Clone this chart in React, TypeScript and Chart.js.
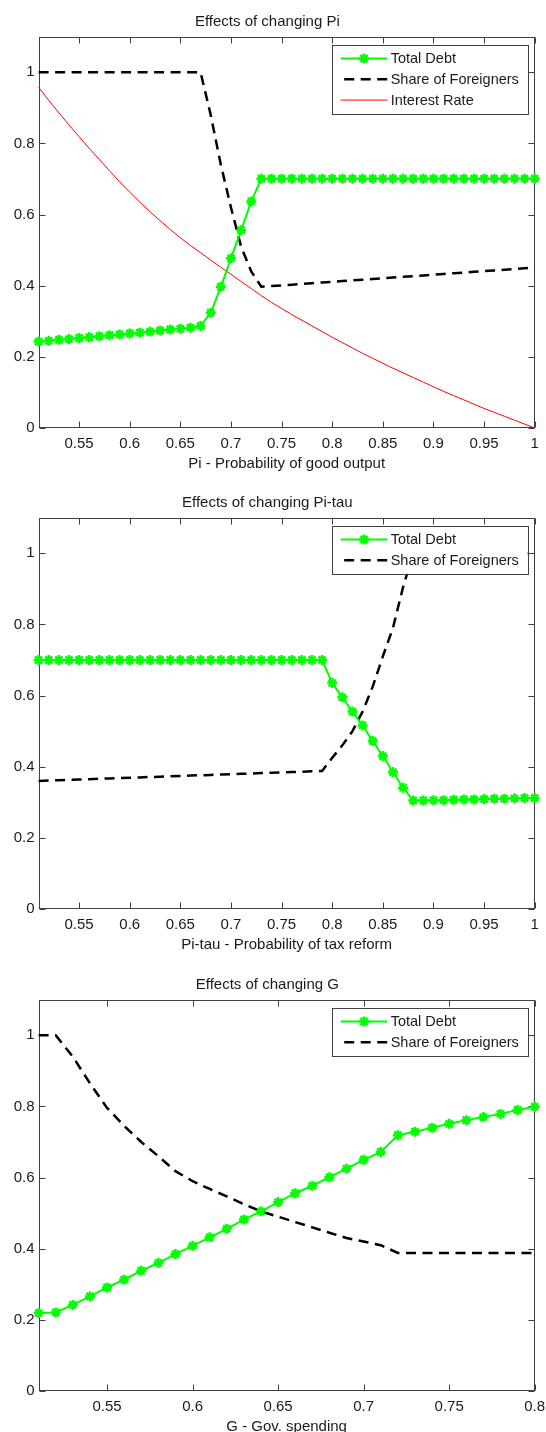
import React, { useEffect, useRef } from "react";
import { Chart, registerables } from "chart.js";

Chart.register(...registerables);

const FONT = "'Liberation Sans', Arial, Helvetica, sans-serif";
const TEXT_COLOR = "#1a1a1a";
const AXIS_COLOR = "#404040";

// ---------- Panel 1: Effects of changing Pi ----------
const piX = [
  0.51, 0.52, 0.53, 0.54, 0.55, 0.56, 0.57, 0.58, 0.59, 0.6,
  0.61, 0.62, 0.63, 0.64, 0.65, 0.66, 0.67, 0.68, 0.69, 0.7,
  0.71, 0.72, 0.73, 0.74, 0.75, 0.76, 0.77, 0.78, 0.79, 0.8,
  0.81, 0.82, 0.83, 0.84, 0.85, 0.86, 0.87, 0.88, 0.89, 0.9,
  0.91, 0.92, 0.93, 0.94, 0.95, 0.96, 0.97, 0.98, 0.99, 1.0,
];
const piTotalDebt = [
  0.243, 0.245, 0.248, 0.25, 0.253, 0.255, 0.258, 0.261, 0.263, 0.266,
  0.268, 0.271, 0.274, 0.277, 0.279, 0.282, 0.287, 0.324, 0.397, 0.477,
  0.556, 0.637, 0.701, 0.701, 0.701, 0.701, 0.701, 0.701, 0.701, 0.701,
  0.701, 0.701, 0.701, 0.701, 0.701, 0.701, 0.701, 0.701, 0.701, 0.701,
  0.701, 0.701, 0.701, 0.701, 0.701, 0.701, 0.701, 0.701, 0.701, 0.701,
];
const piShareForeigners = [
  1.0, 1.0, 1.0, 1.0, 1.0, 1.0, 1.0, 1.0, 1.0, 1.0,
  1.0, 1.0, 1.0, 1.0, 1.0, 1.0, 1.0, 0.88, 0.74, 0.62,
  0.51, 0.44, 0.397, 0.399, 0.401, 0.403, 0.405, 0.407, 0.409, 0.411,
  0.413, 0.415, 0.417, 0.419, 0.421, 0.423, 0.425, 0.427, 0.429, 0.431,
  0.433, 0.435, 0.437, 0.439, 0.441, 0.443, 0.445, 0.447, 0.449, 0.451,
];
const piInterestRate = [
  0.958, 0.921, 0.886, 0.852, 0.819, 0.786, 0.755, 0.723, 0.692, 0.663,
  0.635, 0.608, 0.583, 0.558, 0.535, 0.513, 0.493, 0.472, 0.452, 0.432,
  0.412, 0.392, 0.372, 0.353, 0.336, 0.319, 0.303, 0.287, 0.271, 0.255,
  0.24, 0.225, 0.21, 0.196, 0.182, 0.168, 0.155, 0.142, 0.129, 0.116,
  0.103, 0.091, 0.079, 0.067, 0.055, 0.044, 0.033, 0.022, 0.011, 0.0,
];

// ---------- Panel 2: Effects of changing Pi-tau ----------
const piTauX = piX;
const piTauTotalDebt = [
  0.7, 0.7, 0.7, 0.7, 0.7, 0.7, 0.7, 0.7, 0.7, 0.7,
  0.7, 0.7, 0.7, 0.7, 0.7, 0.7, 0.7, 0.7, 0.7, 0.7,
  0.7, 0.7, 0.7, 0.7, 0.7, 0.7, 0.7, 0.7, 0.7, 0.635,
  0.595, 0.555, 0.516, 0.472, 0.43, 0.385, 0.341, 0.305, 0.305, 0.306,
  0.306, 0.307, 0.308, 0.308, 0.309, 0.31, 0.31, 0.311, 0.312, 0.312,
];
const piTauShareForeigners = [
  0.36, 0.361, 0.362, 0.363, 0.364, 0.365, 0.366, 0.367, 0.368, 0.369,
  0.37, 0.371, 0.372, 0.373, 0.374, 0.375, 0.376, 0.377, 0.378, 0.379,
  0.38, 0.381, 0.382, 0.383, 0.384, 0.385, 0.386, 0.387, 0.388, 0.425,
  0.46, 0.5, 0.555, 0.625, 0.71, 0.79, 0.905, 1.0, 1.0, 1.0,
  1.0, 1.0, 1.0, 1.0, 1.0, 1.0, 1.0, 1.0, 1.0, 1.0,
];

// ---------- Panel 3: Effects of changing G ----------
const gX = [
  0.51, 0.52, 0.53, 0.54, 0.55, 0.56, 0.57, 0.58, 0.59, 0.6,
  0.61, 0.62, 0.63, 0.64, 0.65, 0.66, 0.67, 0.68, 0.69, 0.7,
  0.71, 0.72, 0.73, 0.74, 0.75, 0.76, 0.77, 0.78, 0.79, 0.8,
];
const gTotalDebt = [
  0.219, 0.221, 0.242, 0.266, 0.291, 0.313, 0.338, 0.36, 0.385, 0.408,
  0.432, 0.456, 0.482, 0.505, 0.531, 0.556, 0.577, 0.601, 0.625, 0.65,
  0.672, 0.719, 0.729, 0.74, 0.751, 0.761, 0.77, 0.779, 0.79, 0.799,
];
const gShareForeigners = [
  1.0, 1.0, 0.94, 0.865, 0.796, 0.745, 0.7, 0.66, 0.618, 0.59,
  0.568, 0.547, 0.525, 0.505, 0.49, 0.475, 0.46, 0.445, 0.43, 0.42,
  0.41, 0.388, 0.388, 0.388, 0.388, 0.388, 0.388, 0.388, 0.388, 0.388,
];

// ---------- Ticks ----------
const xTicksPi = [0.55, 0.6, 0.65, 0.7, 0.75, 0.8, 0.85, 0.9, 0.95, 1];
const xTickLabelsPi = ["0.55", "0.6", "0.65", "0.7", "0.75", "0.8", "0.85", "0.9", "0.95", "1"];
const xTicksG = [0.55, 0.6, 0.65, 0.7, 0.75, 0.8];
const xTickLabelsG = ["0.55", "0.6", "0.65", "0.7", "0.75", "0.8"];
const yTicks = [0, 0.2, 0.4, 0.6, 0.8, 1];
const yTickLabels = ["0", "0.2", "0.4", "0.6", "0.8", "1"];

type Kind = "debt" | "share" | "rate";
type Series = { label: string; kind: Kind; values: number[] };
type PanelDef = {
  title: string;
  xLabel: string;
  x: number[];
  xMin: number;
  xMax: number;
  xTicks: number[];
  xTickLabels: string[];
  series: Series[];
};

const panels: PanelDef[] = [
  {
    title: "Effects of changing Pi",
    xLabel: "Pi - Probability of good output",
    x: piX,
    xMin: 0.51,
    xMax: 1,
    xTicks: xTicksPi,
    xTickLabels: xTickLabelsPi,
    series: [
      { label: "Total Debt", kind: "debt", values: piTotalDebt },
      { label: "Share of Foreigners", kind: "share", values: piShareForeigners },
      { label: "Interest Rate", kind: "rate", values: piInterestRate },
    ],
  },
  {
    title: "Effects of changing Pi-tau",
    xLabel: "Pi-tau - Probability of tax reform",
    x: piTauX,
    xMin: 0.51,
    xMax: 1,
    xTicks: xTicksPi,
    xTickLabels: xTickLabelsPi,
    series: [
      { label: "Total Debt", kind: "debt", values: piTauTotalDebt },
      { label: "Share of Foreigners", kind: "share", values: piTauShareForeigners },
    ],
  },
  {
    title: "Effects of changing G",
    xLabel: "G - Gov. spending",
    x: gX,
    xMin: 0.51,
    xMax: 0.8,
    xTicks: xTicksG,
    xTickLabels: xTickLabelsG,
    series: [
      { label: "Total Debt", kind: "debt", values: gTotalDebt },
      { label: "Share of Foreigners", kind: "share", values: gShareForeigners },
    ],
  },
];

function styleFor(kind: Kind) {
  if (kind === "debt") {
    return {
      borderColor: "#00ff00",
      backgroundColor: "#00ff00",
      borderWidth: 2,
      pointStyle: "star",
      pointRadius: 5,
      pointBorderWidth: 2.5,
      pointBorderColor: "#00ff00",
      pointBackgroundColor: "#00ff00",
    };
  }
  if (kind === "share") {
    return {
      borderColor: "#000000",
      backgroundColor: "#000000",
      borderWidth: 2.5,
      borderDash: [10, 6.5],
      pointRadius: 0,
    };
  }
  return {
    borderColor: "#ff0000",
    backgroundColor: "#ff0000",
    borderWidth: 1,
    pointRadius: 0,
  };
}

function drawStar(ctx: CanvasRenderingContext2D, x: number, y: number, r: number) {
  const d = r * Math.SQRT1_2;
  ctx.beginPath();
  ctx.moveTo(x - r, y);
  ctx.lineTo(x + r, y);
  ctx.moveTo(x, y - r);
  ctx.lineTo(x, y + r);
  ctx.moveTo(x - d, y - d);
  ctx.lineTo(x + d, y + d);
  ctx.moveTo(x - d, y + d);
  ctx.lineTo(x + d, y - d);
  ctx.stroke();
}

const axesPlugin = {
  id: "matlabAxes",
  beforeDatasetsDraw(chart: any) {
    const { ctx, chartArea: a, scales } = chart;
    const L = Math.round(a.left) + 0.5;
    const R = Math.round(a.right) - 0.5;
    const T = Math.round(a.top) + 0.5;
    const B = Math.round(a.bottom) - 0.5;
    const len = 6;
    ctx.save();
    ctx.strokeStyle = AXIS_COLOR;
    ctx.lineWidth = 1;
    ctx.setLineDash([]);
    ctx.strokeRect(L, T, R - L, B - T);
    ctx.beginPath();
    scales.x.ticks.forEach((t: any) => {
      const px = Math.round(scales.x.getPixelForValue(t.value)) + 0.5;
      ctx.moveTo(px, B);
      ctx.lineTo(px, B - len);
      ctx.moveTo(px, T);
      ctx.lineTo(px, T + len);
    });
    scales.y.ticks.forEach((t: any) => {
      const py = Math.round(scales.y.getPixelForValue(t.value)) + 0.5;
      ctx.moveTo(L, py);
      ctx.lineTo(L + len, py);
      ctx.moveTo(R, py);
      ctx.lineTo(R - len, py);
    });
    ctx.stroke();
    ctx.restore();
  },
};

const boxLegendPlugin = {
  id: "boxLegend",
  afterDatasetsDraw(chart: any) {
    const { ctx, chartArea: a } = chart;
    const ds = chart.data.datasets;
    const rowH = 20.8;
    const padV = 13.5;
    const w = 196;
    const h = padV * 2 + rowH * (ds.length - 1);
    const right = a.right - 7;
    const left = right - w;
    const top = a.top + 8.3;
    ctx.save();
    ctx.fillStyle = "#ffffff";
    ctx.fillRect(left, top, w, h);
    ctx.strokeStyle = AXIS_COLOR;
    ctx.lineWidth = 1;
    ctx.setLineDash([]);
    ctx.strokeRect(Math.round(left) + 0.5, Math.round(top) + 0.5, Math.round(w), Math.round(h));
    ds.forEach((d: any, i: number) => {
      const y = top + padV + i * rowH;
      const x0 = left + 9;
      const x1 = left + 55.6;
      ctx.strokeStyle = d.borderColor;
      ctx.lineWidth = d.borderWidth;
      ctx.setLineDash(d.borderDash || []);
      ctx.beginPath();
      if (d.borderDash) {
        ctx.moveTo(x0 + 3.5, y);
      } else {
        ctx.moveTo(x0, y);
      }
      ctx.lineTo(x1, y);
      ctx.stroke();
      ctx.setLineDash([]);
      if (d.pointRadius > 0) {
        ctx.lineWidth = d.pointBorderWidth;
        ctx.strokeStyle = d.pointBorderColor;
        drawStar(ctx, (x0 + x1) / 2, y, d.pointRadius);
      }
      ctx.fillStyle = TEXT_COLOR;
      ctx.font = `14.5px ${FONT}`;
      ctx.textBaseline = "middle";
      ctx.textAlign = "left";
      ctx.fillText(d.label, left + 59, y + 0.5);
    });
    ctx.restore();
  },
};

function buildConfig(p: PanelDef): any {
  return {
    type: "line",
    data: {
      datasets: p.series.map((s) => ({
        label: s.label,
        data: p.x.map((xv, i) => ({ x: xv, y: s.values[i] })),
        tension: 0,
        fill: false,
        clip: 8,
        ...styleFor(s.kind),
      })),
    },
    options: {
      animation: false,
      responsive: false,
      maintainAspectRatio: false,
      devicePixelRatio: 1,
      events: [],
      layout: { padding: { top: 0, left: 0, right: 11.3, bottom: 8 } },
      plugins: {
        legend: { display: false },
        tooltip: { enabled: false },
        title: {
          display: true,
          text: p.title,
          color: TEXT_COLOR,
          font: { family: FONT, size: 15, weight: "normal", lineHeight: 1.2 },
          padding: { top: 12.7, bottom: 6 },
        },
      },
      scales: {
        x: {
          type: "linear",
          min: p.xMin,
          max: p.xMax,
          afterBuildTicks: (s: any) => {
            s.ticks = p.xTicks.map((v) => ({ value: v }));
          },
          afterFit: (s: any) => {
            s.height = 45;
            s.paddingLeft = 0;
            s.paddingRight = 0;
          },
          ticks: {
            autoSkip: false,
            maxRotation: 0,
            padding: 7,
            color: TEXT_COLOR,
            font: { family: FONT, size: 15, lineHeight: 1.2 },
            callback: (_v: any, i: number) => p.xTickLabels[i],
          },
          grid: { display: false, drawTicks: false },
          border: { display: false },
          title: {
            display: true,
            text: p.xLabel,
            color: TEXT_COLOR,
            font: { family: FONT, size: 15, lineHeight: 1.2 },
            padding: { top: 2, bottom: 0 },
          },
        },
        y: {
          type: "linear",
          min: 0,
          max: 1.1,
          afterBuildTicks: (s: any) => {
            s.ticks = yTicks.map((v) => ({ value: v }));
          },
          afterFit: (s: any) => {
            s.width = 38.6;
            s.paddingTop = 0;
            s.paddingBottom = 0;
          },
          ticks: {
            autoSkip: false,
            padding: 4,
            color: TEXT_COLOR,
            font: { family: FONT, size: 15, lineHeight: 1.2 },
            callback: (_v: any, i: number) => yTickLabels[i],
          },
          grid: { display: false, drawTicks: false },
          border: { display: false },
        },
      },
    },
    plugins: [axesPlugin, boxLegendPlugin],
  };
}

function Panel({ def, top }: { def: PanelDef; top: number }) {
  const ref = useRef<HTMLCanvasElement | null>(null);
  useEffect(() => {
    if (!ref.current) return;
    const chart = new Chart(ref.current, buildConfig(def));
    return () => chart.destroy();
  }, [def]);
  return (
    <canvas
      ref={ref}
      width={546}
      height={481}
      style={{ position: "absolute", left: 0, top, width: 546, height: 481, display: "block" }}
    />
  );
}

export default function App() {
  const tops = [0, 481, 963];
  return (
    <div
      style={{
        position: "absolute",
        left: 0,
        top: 0,
        width: 546,
        height: 1432,
        overflow: "hidden",
        background: "#ffffff",
      }}
    >
      {panels.map((p, i) => (
        <Panel key={i} def={p} top={tops[i]} />
      ))}
    </div>
  );
}
